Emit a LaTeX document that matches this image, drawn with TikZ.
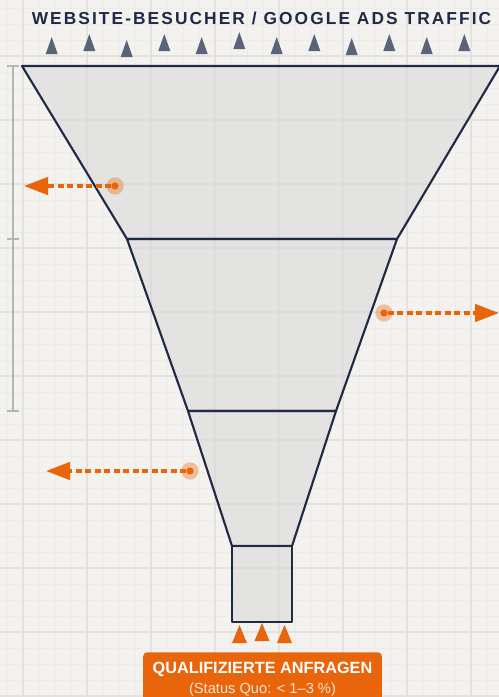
\documentclass[tikz,border=0pt]{standalone}
\usepackage{fontspec}
\setmainfont{Liberation Sans}
\newfontfamily\trackedfont[LetterSpace=12]{Liberation Sans}
\usetikzlibrary{arrows.meta, positioning}

\definecolor{paper}{HTML}{F3F2EE}
\definecolor{gridminor}{HTML}{EDECE8}
\definecolor{gridmajor}{HTML}{E3E2DE}
\definecolor{navy}{HTML}{1F2A44}
\definecolor{visitorgray}{HTML}{5A6478}
\definecolor{accent}{HTML}{E8650C}
\definecolor{layerfill}{HTML}{D8D8D7}
\definecolor{scalegray}{HTML}{B4B4B9}

\begin{document}
\begin{tikzpicture}[
    x=0.75pt, y=0.75pt,
    minorline/.style = {draw=gridminor, line width=0.6pt},
    majorline/.style = {draw=gridmajor, line width=1.2pt},
    layer/.style     = {draw=navy, line width=1.6pt, fill=layerfill,
                        fill opacity=0.55, line join=round},
    visitor/.style   = {fill=visitorgray},
    lead/.style      = {fill=accent},
    halo/.style      = {circle, fill=accent, fill opacity=0.36,
                        minimum size=13pt, inner sep=0pt},
    dot/.style       = {circle, fill=accent, minimum size=5.5pt, inner sep=0pt},
    leak/.style      = {-{Triangle[length=18pt, width=13pt]}, draw=accent,
                        line width=2.6pt, dash pattern=on 4.5pt off 2.6pt},
    ruler/.style     = {draw=scalegray, line width=1.1pt},
    title/.style     = {font=\trackedfont\fontsize{13}{15}\selectfont\bfseries,
                        text=navy, inner sep=0pt},
    result/.style    = {fill=accent, rounded corners=3pt, text=white,
                        align=center, minimum width=179pt, minimum height=40pt,
                        inner sep=0pt, font=\fontsize{12.2}{14}\selectfont}
]

%% ── Hintergrund mit Raster ─────────────────────────────────────────────────
\useasboundingbox (0,0) rectangle (499,-697);
\fill[paper] (0,0) rectangle (499,-697);
\foreach \x in {7,23,...,503} \draw[minorline] (\x,0) -- (\x,-697);
\foreach \y in {8,24,...,700} \draw[minorline] (0,-\y) -- (499,-\y);
\foreach \x in {23,87,...,503} \draw[majorline] (\x,0) -- (\x,-697);
\foreach \y in {56,120,...,700} \draw[majorline] (0,-\y) -- (499,-\y);

%% ── Überschrift und Besucherstrom ──────────────────────────────────────────
\node[title] (title) at (261.5,-18) {WEBSITE-BESUCHER / GOOGLE ADS TRAFFIC};
\foreach \x/\y in {51.7/54, 89.3/51, 126.7/57, 164.3/51, 201.7/54, 239.3/49,
                   276.7/54, 314.3/51, 351.7/55, 389.3/51, 426.7/54, 464.3/51}
    \fill[visitor] (\x-6,-\y) -- (\x+6,-\y) -- (\x,-\y+17) -- cycle;

%% ── Trichter ───────────────────────────────────────────────────────────────
\coordinate (f0l) at (22,-66);   \coordinate (f0r) at (500,-66);
\coordinate (f1l) at (127,-239); \coordinate (f1r) at (397,-239);
\coordinate (f2l) at (188,-411); \coordinate (f2r) at (336,-411);
\coordinate (f3l) at (232,-546); \coordinate (f3r) at (292,-546);
\coordinate (f4l) at (232,-622); \coordinate (f4r) at (292,-622);

\filldraw[layer] (f0l) -- (f0r) -- (f1r) -- (f1l) -- cycle;
\filldraw[layer] (f1l) -- (f1r) -- (f2r) -- (f2l) -- cycle;
\filldraw[layer] (f2l) -- (f2r) -- (f3r) -- (f3l) -- cycle;
\filldraw[layer] (f3l) -- (f3r) -- (f4r) -- (f4l) -- cycle;

%% ── Skala links ────────────────────────────────────────────────────────────
\coordinate (s0) at (13,-66);
\coordinate (s1) at (13,-239);
\coordinate (s2) at (13,-411);
\draw[ruler] (s0) -- (s2);
\foreach \s in {s0,s1,s2} \draw[ruler] ([xshift=-4.5pt]\s) -- ([xshift=4.5pt]\s);

%% ── Abbrüche ───────────────────────────────────────────────────────────────
\node[halo] (h1) at (115,-186) {};
\node[dot]  (d1) at (115,-186) {};
\coordinate (e1) at (24,-186);
\draw[leak] (d1) -- (e1);

\node[halo] (h2) at (384,-313) {};
\node[dot]  (d2) at (384,-313) {};
\coordinate (e2) at (499,-313);
\draw[leak] (d2) -- (e2);

\node[halo] (h3) at (190,-471) {};
\node[dot]  (d3) at (190,-471) {};
\coordinate (e3) at (46,-471);
\draw[leak] (d3) -- (e3);

%% ── Ergebnis ───────────────────────────────────────────────────────────────
\foreach \x/\y in {239.5/643, 262/641, 284.5/643}
    \fill[lead] (\x-7.5,-\y) -- (\x+7.5,-\y) -- (\x,-\y+18) -- cycle;

\node[result, anchor=north] (res) at (262.5,-652)
    {\textbf{QUALIFIZIERTE ANFRAGEN}\\[1pt]
     {\fontsize{11}{13}\selectfont\color{white!82!accent}(Status Quo: < 1–3 \%)}};

\end{tikzpicture}
\end{document}
